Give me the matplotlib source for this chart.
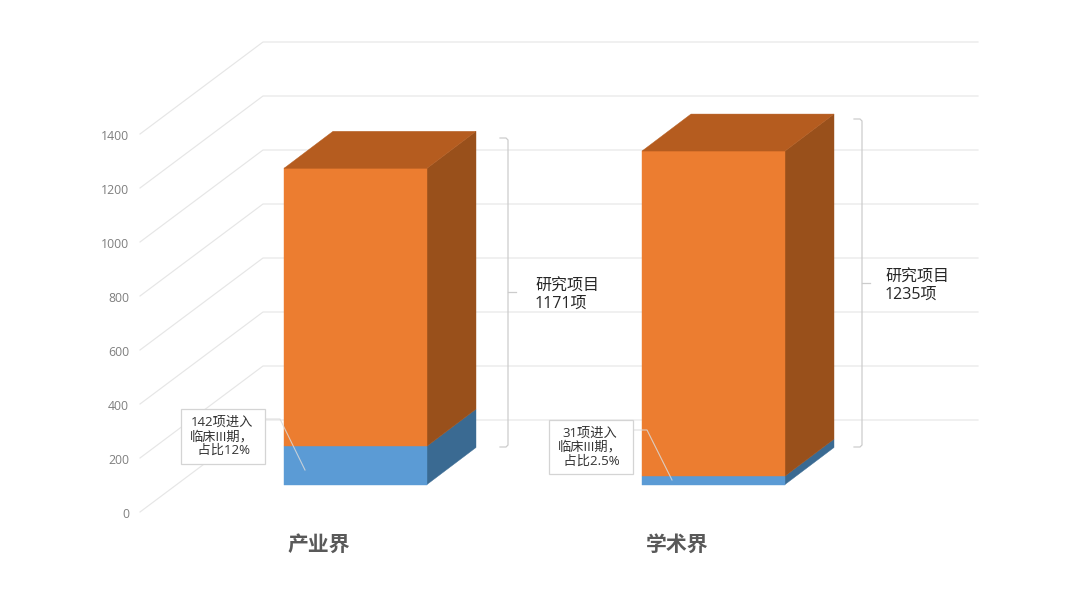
import numpy as np
import matplotlib
matplotlib.use('Agg')
import matplotlib.pyplot as plt
from matplotlib.patches import Polygon, Rectangle

# latin digits from Open Sans, the rest falls through to the CJK family
plt.rcParams['font.family'] = ['Open Sans', 'Noto Sans CJK SC', 'DejaVu Sans']

categories = ['产业界', '学术界']
phase3_counts = [142, 31]
other_counts = [1029, 1204]
total_labels = ['研究项目\n1171项', '研究项目\n1235项']
callout_labels = ['142项进入\n临床III期，\n 占比12%', '31项进入\n临床III期，\n 占比2.5%']
axis_ticks = [0, 200, 400, 600, 800, 1000, 1200, 1400]

# projection of the fake 3d box, all in screen pixels
PX_PER_UNIT = 0.27
FRONT_X = 140
FRONT_Y0 = 512
WALL_DX = 123
WALL_DY = -92
WALL_RIGHT = 978
BAR_LEFT = 284
BAR_STEP = 358
BAR_W = 143
BAR_BASE_Y = 484.5
BAR_DX = 49
BAR_DY = -37

ORANGE = ('#ec7d30', '#b55c1f', '#99501b')
BLUE = ('#5b9bd5', '#41719c', '#3a6a92')
GRID = '#e6e6e6'
BRACKET = '#cccccc'


def val_y(value, base=BAR_BASE_Y):
    return base - value * PX_PER_UNIT


def draw_box(ax, x, v0, v1, colors, top=False):
    y0 = val_y(v0)
    y1 = val_y(v1)
    front, top_c, side = colors
    ax.add_patch(Polygon([(x + BAR_W, y0), (x + BAR_W + BAR_DX, y0 + BAR_DY),
                          (x + BAR_W + BAR_DX, y1 + BAR_DY), (x + BAR_W, y1)],
                         fc=side, ec=side, lw=0.3, zorder=3))
    ax.add_patch(Rectangle((x, y1), BAR_W, y0 - y1, fc=front, ec=front, lw=0.3, zorder=3))
    if top:
        ax.add_patch(Polygon([(x, y1), (x + BAR_DX, y1 + BAR_DY),
                              (x + BAR_W + BAR_DX, y1 + BAR_DY), (x + BAR_W, y1)],
                             fc=top_c, ec=top_c, lw=0.3, zorder=3))


def draw_bracket(ax, x, y_top, y_bot, y_mid):
    xs = [x - 8, x - 2, x, x, x - 2, x - 8]
    ys = [y_top, y_top, y_top + 2, y_bot - 2, y_bot, y_bot]
    ax.plot(xs, ys, color=BRACKET, lw=0.9, zorder=4)
    ax.plot([x, x + 8], [y_mid, y_mid], color=BRACKET, lw=0.9, zorder=4)


def draw_callout(ax, box, leader, label):
    bx, by, bw, bh = box
    ax.plot(*zip(*leader), color='#d9d9d9', lw=0.8, zorder=5, alpha=0.85)
    ax.add_patch(Rectangle((bx, by), bw, bh, fc='white', ec='#d4d4d4', lw=0.9, zorder=6))
    ax.text(bx + bw / 2 - 1, by + bh / 2, label, ha='center', va='center', fontsize=9.5,
            color='#333333', linespacing=1.12, zorder=7)


fig = plt.figure(figsize=(10.8, 6.08), dpi=100)
ax = fig.add_axes([0, 0, 1, 1])
ax.set_xlim(0, 1080)
ax.set_ylim(608, 0)
ax.axis('off')

for tick in axis_ticks:
    y = val_y(tick, FRONT_Y0)
    ax.plot([FRONT_X, FRONT_X + WALL_DX, WALL_RIGHT], [y, y + WALL_DY, y + WALL_DY],
            color=GRID, lw=0.85, zorder=1)
    ax.text(129, y + 2, str(tick), ha='right', va='center', fontsize=8.8, color='#7f7f7f')

callout_boxes = [(181, 409, 84, 55), (549, 420, 84, 54)]
callout_leaders = [[(265, 419), (280, 419), (305, 470)], [(633, 430), (647, 430), (672, 480)]]
bracket_x = [508, 862]
bracket_top = [138, 119]
bracket_mid = [292, 283]
text_x = [535, 885]

for i, name in enumerate(categories):
    x = BAR_LEFT + BAR_STEP * i
    total = phase3_counts[i] + other_counts[i]
    draw_box(ax, x, 0, phase3_counts[i], BLUE)
    draw_box(ax, x, phase3_counts[i], total, ORANGE, top=True)
    ax.text(x + 35, 545.5, name, ha='center', va='center', fontsize=15, fontweight='bold',
            color='#595959')
    draw_bracket(ax, bracket_x[i], bracket_top[i], 447, bracket_mid[i])
    ax.text(text_x[i], bracket_mid[i] + 3, total_labels[i], ha='left', va='center',
            fontsize=11.5, color='#262626', linespacing=1.1, zorder=7)
    draw_callout(ax, callout_boxes[i], callout_leaders[i], callout_labels[i])

fig.savefig('out.png', dpi=100, facecolor='white')
